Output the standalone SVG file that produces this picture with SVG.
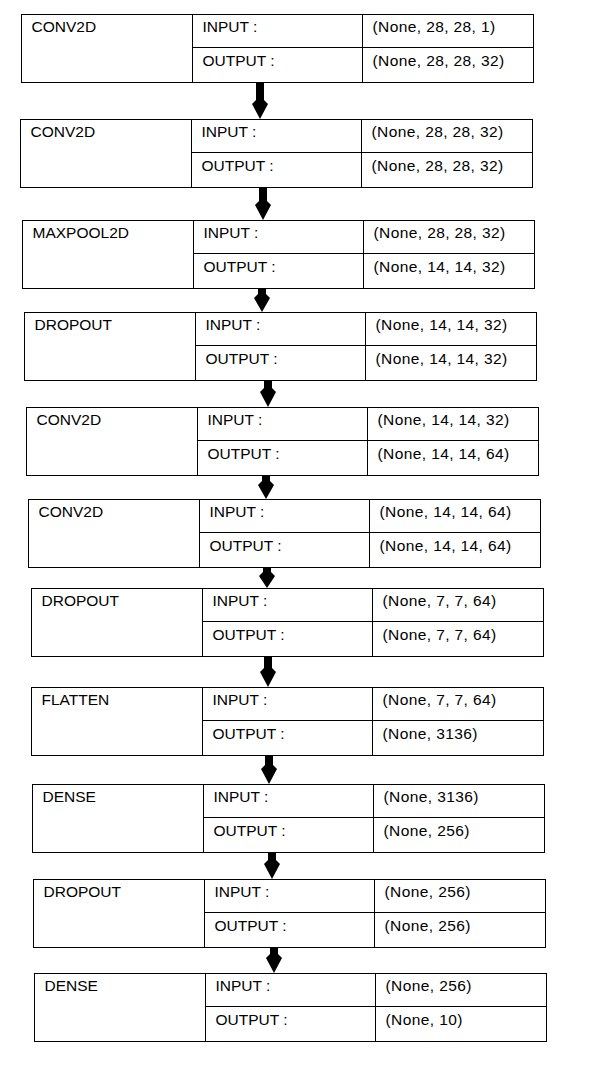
<svg xmlns="http://www.w3.org/2000/svg" width="595" height="1073" viewBox="0 0 595 1073">
<style>
.box{fill:#fff;stroke:#000;stroke-width:1}
.ln{stroke:#000;stroke-width:1}
text{font-family:"Liberation Sans",Arial,sans-serif;font-size:15.5px;fill:#000}
.v{letter-spacing:0.4px}
.arr{fill:#000;stroke:none}
</style>
<defs>
<g id="frame">
<rect class="box" x="0" y="0" width="512" height="68"/>
<line class="ln" x1="171" y1="0" x2="171" y2="68"/>
<line class="ln" x1="341" y1="0" x2="341" y2="68"/>
<line class="ln" x1="171" y1="33" x2="512" y2="33"/>
</g>
</defs>
<rect x="0" y="0" width="595" height="1073" fill="#fff"/>
<g id="connectors">
<polygon class="arr" points="256,82 264,82 264,100 268,104 260,119 252,104 256,100"/>
<polygon class="arr" points="259,187 267,187 267,201 271,205 263,220 255,205 259,201"/>
<polygon class="arr" points="258,288 266,288 266,294 270,298 262,312 254,298 258,294"/>
<polygon class="arr" points="264,380 272,380 272,388 276,392 268,407 260,392 264,388"/>
<polygon class="arr" points="262,475 270,475 270,481 274,485 266,499 258,485 262,481"/>
<polygon class="arr" points="263,567 271,567 271,572 275,576 267,588 259,576 263,572"/>
<polygon class="arr" points="264,656 272,656 272,668 276,672 268,687 260,672 264,668"/>
<polygon class="arr" points="265,755 273,755 273,765 277,769 269,784 261,769 265,765"/>
<polygon class="arr" points="268,852 276,852 276,860 280,864 272,879 264,864 268,860"/>
<polygon class="arr" points="270,947 278,947 278,954 282,958 274,973 266,958 270,954"/>
</g>
<g id="n1" transform="translate(21.5,14.5)"><use href="#frame"/><text x="10" y="17">CONV2D</text><text x="181" y="17">INPUT :</text><text x="181" y="51">OUTPUT :</text><text class="v" x="351" y="17">(None, 28, 28, 1)</text><text class="v" x="351" y="51">(None, 28, 28, 32)</text></g>
<g id="n2" transform="translate(20.5,119.5)"><use href="#frame"/><text x="10" y="17">CONV2D</text><text x="181" y="17">INPUT :</text><text x="181" y="51">OUTPUT :</text><text class="v" x="351" y="17">(None, 28, 28, 32)</text><text class="v" x="351" y="51">(None, 28, 28, 32)</text></g>
<g id="n3" transform="translate(22.5,220.5)"><use href="#frame"/><text x="10" y="17">MAXPOOL2D</text><text x="181" y="17">INPUT :</text><text x="181" y="51">OUTPUT :</text><text class="v" x="351" y="17">(None, 28, 28, 32)</text><text class="v" x="351" y="51">(None, 14, 14, 32)</text></g>
<g id="n4" transform="translate(24.5,312.5)"><use href="#frame"/><text x="10" y="17">DROPOUT</text><text x="181" y="17">INPUT :</text><text x="181" y="51">OUTPUT :</text><text class="v" x="351" y="17">(None, 14, 14, 32)</text><text class="v" x="351" y="51">(None, 14, 14, 32)</text></g>
<g id="n5" transform="translate(26.5,407.5)"><use href="#frame"/><text x="10" y="17">CONV2D</text><text x="181" y="17">INPUT :</text><text x="181" y="51">OUTPUT :</text><text class="v" x="351" y="17">(None, 14, 14, 32)</text><text class="v" x="351" y="51">(None, 14, 14, 64)</text></g>
<g id="n6" transform="translate(28.5,499.5)"><use href="#frame"/><text x="10" y="17">CONV2D</text><text x="181" y="17">INPUT :</text><text x="181" y="51">OUTPUT :</text><text class="v" x="351" y="17">(None, 14, 14, 64)</text><text class="v" x="351" y="51">(None, 14, 14, 64)</text></g>
<g id="n7" transform="translate(31.5,588.5)"><use href="#frame"/><text x="10" y="17">DROPOUT</text><text x="181" y="17">INPUT :</text><text x="181" y="51">OUTPUT :</text><text class="v" x="351" y="17">(None, 7, 7, 64)</text><text class="v" x="351" y="51">(None, 7, 7, 64)</text></g>
<g id="n8" transform="translate(31.5,687.5)"><use href="#frame"/><text x="10" y="17">FLATTEN</text><text x="181" y="17">INPUT :</text><text x="181" y="51">OUTPUT :</text><text class="v" x="351" y="17">(None, 7, 7, 64)</text><text class="v" x="351" y="51">(None, 3136)</text></g>
<g id="n9" transform="translate(32.5,784.5)"><use href="#frame"/><text x="10" y="17">DENSE</text><text x="181" y="17">INPUT :</text><text x="181" y="51">OUTPUT :</text><text class="v" x="351" y="17">(None, 3136)</text><text class="v" x="351" y="51">(None, 256)</text></g>
<g id="n10" transform="translate(33.5,879.5)"><use href="#frame"/><text x="10" y="17">DROPOUT</text><text x="181" y="17">INPUT :</text><text x="181" y="51">OUTPUT :</text><text class="v" x="351" y="17">(None, 256)</text><text class="v" x="351" y="51">(None, 256)</text></g>
<g id="n11" transform="translate(34.5,973.5)"><use href="#frame"/><text x="10" y="17">DENSE</text><text x="181" y="17">INPUT :</text><text x="181" y="51">OUTPUT :</text><text class="v" x="351" y="17">(None, 256)</text><text class="v" x="351" y="51">(None, 10)</text></g>
</svg>
